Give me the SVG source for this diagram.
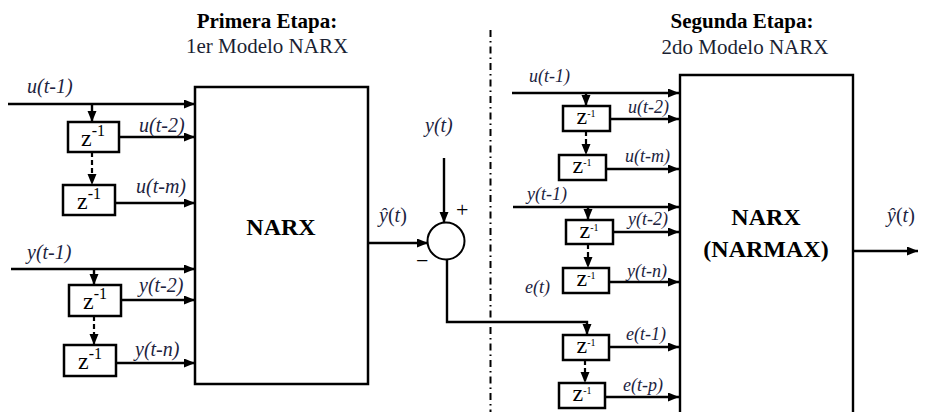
<svg xmlns="http://www.w3.org/2000/svg" width="937" height="412" viewBox="0 0 937 412">
<style>
text{font-family:'Liberation Serif','Times New Roman',Times,'DejaVu Serif',serif}
.ln{stroke:#000;stroke-width:2.4;fill:none}
.dl{stroke:#000;stroke-width:2.2;fill:none;stroke-dasharray:5,3}
.bx{stroke:#000;stroke-width:2.5;fill:#fff}
.lbl{font-style:italic;font-size:20px;fill:#1c2340}
.lbs{font-style:italic;font-size:18px;fill:#1c2340}
.z{font-size:24px;fill:#000}
.zs{font-size:16px}
.hb{font-weight:bold;font-size:21px;fill:#000}
.hr{font-size:21px;fill:#1a1f33}
.nb{font-weight:bold;font-size:24px;fill:#000}
.sg{font-size:22px;fill:#000}
</style>
<defs>
<marker id="ar" markerUnits="userSpaceOnUse" markerWidth="12" markerHeight="10" refX="11" refY="4.5" orient="auto">
<path d="M0,0 L11,4.5 L0,9 z" fill="#000"/>
</marker>
</defs>

<g id="headers">
<text class="hb" x="267" y="28" text-anchor="middle">Primera Etapa:</text>
<text class="hr" x="267" y="53" text-anchor="middle">1er Modelo NARX</text>
<text class="hb" x="742" y="28" text-anchor="middle">Segunda Etapa:</text>
<text class="hr" x="745" y="54" text-anchor="middle">2do Modelo NARX</text>
</g>

<g id="divider">
<line x1="490.5" y1="30" x2="490.5" y2="412" stroke="#000" stroke-width="2" stroke-dasharray="7,4,1.5,4"/>
</g>

<g id="connectors">
<line class="ln" x1="8" y1="104" x2="195" y2="104" marker-end="url(#ar)"/>
<line class="ln" x1="92" y1="104" x2="92" y2="122" marker-end="url(#ar)"/>
<line class="ln" x1="119" y1="137" x2="195" y2="137" marker-end="url(#ar)"/>
<line class="dl" x1="92" y1="152" x2="92" y2="185" marker-end="url(#ar)"/>
<line class="ln" x1="115" y1="203" x2="195" y2="203" marker-end="url(#ar)"/>
<line class="ln" x1="11" y1="269" x2="195" y2="269" marker-end="url(#ar)"/>
<line class="ln" x1="94" y1="269" x2="94" y2="285" marker-end="url(#ar)"/>
<line class="ln" x1="121" y1="300" x2="195" y2="300" marker-end="url(#ar)"/>
<line class="dl" x1="94" y1="316" x2="94" y2="345" marker-end="url(#ar)"/>
<line class="ln" x1="116" y1="363" x2="195" y2="363" marker-end="url(#ar)"/>
<line class="ln" x1="368" y1="243" x2="428" y2="243" marker-end="url(#ar)"/>
<line class="ln" x1="444" y1="158" x2="444" y2="223" marker-end="url(#ar)"/>
<polyline class="ln" points="447,260 447,322 587,322 587,335" marker-end="url(#ar)"/>
<line class="ln" x1="512" y1="93" x2="679" y2="93" marker-end="url(#ar)"/>
<line class="ln" x1="586" y1="93" x2="586" y2="106" marker-end="url(#ar)"/>
<line class="ln" x1="610" y1="119" x2="679" y2="119" marker-end="url(#ar)"/>
<line class="dl" x1="586" y1="131" x2="586" y2="155" marker-end="url(#ar)"/>
<line class="ln" x1="606" y1="169" x2="679" y2="169" marker-end="url(#ar)"/>
<line class="ln" x1="513" y1="207" x2="679" y2="207" marker-end="url(#ar)"/>
<line class="ln" x1="588" y1="207" x2="588" y2="220" marker-end="url(#ar)"/>
<line class="ln" x1="613" y1="232" x2="679" y2="232" marker-end="url(#ar)"/>
<line class="dl" x1="588" y1="244" x2="588" y2="268" marker-end="url(#ar)"/>
<line class="ln" x1="609" y1="282" x2="679" y2="282" marker-end="url(#ar)"/>
<line class="ln" x1="609" y1="347" x2="679" y2="347" marker-end="url(#ar)"/>
<line class="dl" x1="585" y1="360" x2="585" y2="383" marker-end="url(#ar)"/>
<line class="ln" x1="605" y1="397" x2="679" y2="397" marker-end="url(#ar)"/>
<line class="ln" x1="853" y1="251" x2="918" y2="251" marker-end="url(#ar)"/>
</g>

<g id="narx1">
<rect class="bx" x="195" y="87" width="173" height="297"/>
<text class="nb" x="281" y="235" text-anchor="middle">NARX</text>
</g>

<g id="narx2">
<path class="ln" d="M680,420 V75 H853 V420" stroke-width="2.5"/>
<text class="nb" x="766" y="225" text-anchor="middle" font-size="25">NARX</text>
<text class="nb" x="766" y="257" text-anchor="middle" font-size="25">(NARMAX)</text>
</g>

<g id="z1-u2"><rect class="bx" x="68" y="122" width="51" height="30"/><text class="z" x="93" y="146" text-anchor="middle">z<tspan class="zs" dy="-10">-1</tspan></text></g>
<g id="z1-um"><rect class="bx" x="63" y="185" width="52" height="30"/><text class="z" x="89" y="209" text-anchor="middle">z<tspan class="zs" dy="-10">-1</tspan></text></g>
<g id="z1-y2"><rect class="bx" x="69" y="285" width="52" height="31"/><text class="z" x="95" y="309" text-anchor="middle">z<tspan class="zs" dy="-10">-1</tspan></text></g>
<g id="z1-yn"><rect class="bx" x="64" y="345" width="52" height="31"/><text class="z" x="90" y="369" text-anchor="middle">z<tspan class="zs" dy="-10">-1</tspan></text></g>

<g id="z2-u2"><rect class="bx" x="563" y="106" width="47" height="25"/><text class="z" x="586" y="124" text-anchor="middle" font-size="17">z<tspan font-size="10" dy="-7">-1</tspan></text></g>
<g id="z2-um"><rect class="bx" x="559" y="155" width="47" height="25"/><text class="z" x="582" y="173" text-anchor="middle" font-size="17">z<tspan font-size="10" dy="-7">-1</tspan></text></g>
<g id="z2-y2"><rect class="bx" x="566" y="220" width="47" height="24"/><text class="z" x="589" y="238" text-anchor="middle" font-size="17">z<tspan font-size="10" dy="-7">-1</tspan></text></g>
<g id="z2-yn"><rect class="bx" x="563" y="268" width="46" height="25"/><text class="z" x="586" y="286" text-anchor="middle" font-size="17">z<tspan font-size="10" dy="-7">-1</tspan></text></g>
<g id="z2-e1"><rect class="bx" x="563" y="335" width="46" height="25"/><text class="z" x="586" y="353" text-anchor="middle" font-size="17">z<tspan font-size="10" dy="-7">-1</tspan></text></g>
<g id="z2-ep"><rect class="bx" x="559" y="383" width="46" height="25"/><text class="z" x="582" y="401" text-anchor="middle" font-size="17">z<tspan font-size="10" dy="-7">-1</tspan></text></g>

<g id="summer">
<circle cx="446" cy="241" r="18.5" fill="#fff" stroke="#000" stroke-width="2"/>
<text class="sg" x="456" y="217" font-size="24">+</text>
<text class="sg" x="416" y="268" font-size="24">−</text>
</g>

<g id="labels">
<text class="lbl" x="27" y="93">u(t-1)</text>
<text class="lbl" x="139" y="132">u(t-2)</text>
<text class="lbl" x="136" y="193">u(t-m)</text>
<text class="lbl" x="27" y="259">y(t-1)</text>
<text class="lbl" x="139" y="292">y(t-2)</text>
<text class="lbl" x="135" y="356">y(t-n)</text>
<text class="lbl" x="425" y="132">y(t)</text>
<text class="lbl" x="379" y="222" font-size="22">ŷ<tspan font-style="normal">(</tspan>t<tspan font-style="normal">)</tspan></text>
<text class="lbs" x="529" y="82">u(t-1)</text>
<text class="lbs" x="628" y="113">u(t-2)</text>
<text class="lbs" x="625" y="162">u(t-m)</text>
<text class="lbs" x="527" y="200">y(t-1)</text>
<text class="lbs" x="628" y="225">y(t-2)</text>
<text class="lbs" x="627" y="277">y(t-n)</text>
<text class="lbs" x="525" y="293">e(t)</text>
<text class="lbs" x="626" y="340">e(t-1)</text>
<text class="lbs" x="623" y="391">e(t-p)</text>
<text class="lbl" x="887" y="222" font-size="22">ŷ<tspan font-style="normal">(</tspan>t<tspan font-style="normal">)</tspan></text>
</g>
</svg>
